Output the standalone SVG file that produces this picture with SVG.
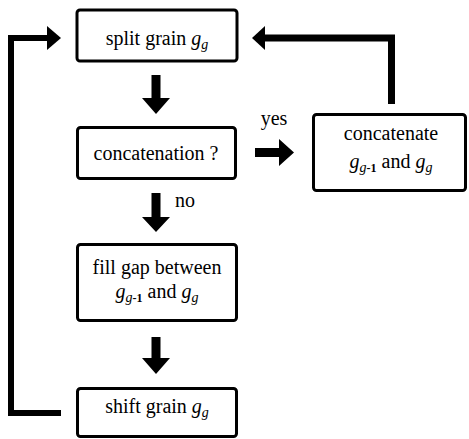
<svg xmlns="http://www.w3.org/2000/svg" width="469" height="439" viewBox="0 0 469 439">
<style>
.box{fill:#fff;stroke:#000;stroke-width:3}
.t{font-family:"Liberation Serif","Times New Roman",serif;font-size:20px;fill:#000;text-anchor:middle}
.i{font-style:italic}
.sub{font-style:italic;font-size:14px}
.m{font-size:12px;font-weight:bold;font-style:normal}
.ln{fill:none;stroke:#000;stroke-linejoin:miter}
.ah{fill:#000}
</style>
<rect width="469" height="439" fill="#fff"/>
<g id="connectors">
  <polygon class="ah" points="151.5,75 160.5,75 160.5,98 170,98 156,114 142,98 151.5,98"/>
  <polygon class="ah" points="151.5,193 160.5,193 160.5,217 170,217 156,232 142,217 151.5,217"/>
  <polygon class="ah" points="151.5,337 160.5,337 160.5,358 170,358 156,374 142,358 151.5,358"/>
  <polygon class="ah" points="255,148 279,148 279,139 294,152.5 279,166 279,157 255,157"/>
  <polyline class="ln" stroke-width="6" points="61,413 11,413 11,38 48,38"/>
  <polygon class="ah" points="47,26 61,38 47,50"/>
  <polyline class="ln" stroke-width="7" points="391.5,104 391.5,38 264,38"/>
  <polygon class="ah" points="265,26 252,38 265,50"/>
  <text class="t" x="274" y="125">yes</text>
  <text class="t" x="185" y="207">no</text>
</g>
<g id="split">
  <rect class="box" x="77" y="10" width="160" height="51" rx="3"/>
  <text class="t" x="157" y="45">split grain <tspan class="i">g</tspan><tspan class="sub" dy="4">g</tspan></text>
</g>
<g id="concat-q">
  <rect class="box" x="77.5" y="127.5" width="158" height="51" rx="3"/>
  <text class="t" x="156" y="160">concatenation ?</text>
</g>
<g id="concatenate">
  <rect class="box" x="313.5" y="114.5" width="152" height="76" rx="3"/>
  <text class="t" x="391" y="140">concatenate</text>
  <text class="t" x="391" y="168"><tspan class="i">g</tspan><tspan class="sub" dy="4">g</tspan><tspan class="m">-1</tspan><tspan dy="-4"> and </tspan><tspan class="i">g</tspan><tspan class="sub" dy="4">g</tspan></text>
</g>
<g id="fillgap">
  <rect class="box" x="77.5" y="244.5" width="159" height="76" rx="3"/>
  <text class="t" x="157" y="274">fill gap between</text>
  <text class="t" x="157" y="298"><tspan class="i">g</tspan><tspan class="sub" dy="4">g</tspan><tspan class="m">-1</tspan><tspan dy="-4"> and </tspan><tspan class="i">g</tspan><tspan class="sub" dy="4">g</tspan></text>
</g>
<g id="shift">
  <rect class="box" x="77.5" y="388.5" width="159" height="48" rx="3"/>
  <text class="t" x="157" y="413">shift grain <tspan class="i">g</tspan><tspan class="sub" dy="4">g</tspan></text>
</g>
</svg>
